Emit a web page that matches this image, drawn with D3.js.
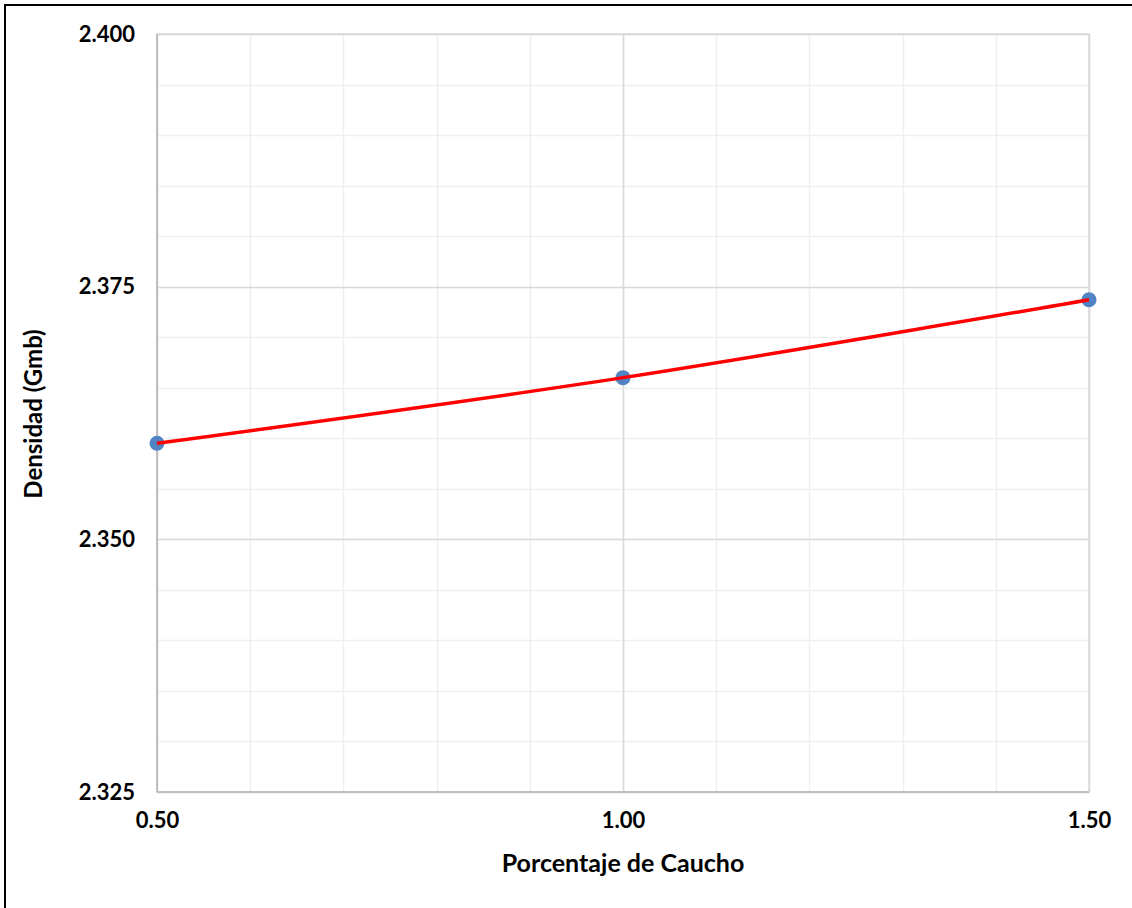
<!DOCTYPE html>
<html>
<head>
<meta charset="utf-8">
<script src="https://cdn.jsdelivr.net/npm/d3@7"></script>
<style>
  html, body { margin: 0; padding: 0; background: #fff; }
  svg { display: block; }
  text { font-family: Lato, "Open Sans", sans-serif; font-weight: bold; fill: #000; }
</style>
</head>
<body>
<svg id="chart" width="1132" height="908"></svg>
<script>
// Rubber content (%) and bulk specific gravity
const porcentajes = [0.50, 1.00, 1.50];
const densidades = [2.3595, 2.3660, 2.3737];

const yTicks = [2.325, 2.350, 2.375, 2.400];
const xTicks = [0.50, 1.00, 1.50];
const xTitulo = "Porcentaje de Caucho";
const yTitulo = "Densidad (Gmb)";

const W = 1132, H = 908;
const m = { left: 157, right: 1089, top: 34, bottom: 792 };

const svg = d3.select("#chart");

// Outer chart border
svg.append("rect")
  .attr("x", 5).attr("y", 5)
  .attr("width", W + 10).attr("height", H + 10)
  .attr("fill", "none").attr("stroke", "#000").attr("stroke-width", 2);

const x = d3.scaleLinear().domain([0.5, 1.5]).range([m.left, m.right]);
const y = d3.scaleLinear().domain([2.325, 2.400]).range([m.bottom, m.top]);

// Minor gridlines
const xMinor = d3.range(0, 11).map(i => 0.5 + i * 0.1);
const yMinor = d3.range(0, 16).map(i => 2.325 + i * 0.005);

const grid = svg.append("g");
grid.selectAll("line.ymin").data(yMinor).join("line")
  .attr("x1", m.left).attr("x2", m.right)
  .attr("y1", d => Math.round(y(d)) + 0.5).attr("y2", d => Math.round(y(d)) + 0.5)
  .attr("stroke", "#efefef").attr("stroke-width", 1.5);
grid.selectAll("line.xmin").data(xMinor).join("line")
  .attr("y1", m.top).attr("y2", m.bottom)
  .attr("x1", d => Math.round(x(d)) + 0.5).attr("x2", d => Math.round(x(d)) + 0.5)
  .attr("stroke", "#efefef").attr("stroke-width", 1.5);

// Major gridlines
grid.selectAll("line.ymaj").data(yTicks).join("line")
  .attr("x1", m.left).attr("x2", m.right)
  .attr("y1", d => Math.round(y(d)) + 0.5).attr("y2", d => Math.round(y(d)) + 0.5)
  .attr("stroke", "#d9d9d9").attr("stroke-width", 1.5);
grid.selectAll("line.xmaj").data(xTicks).join("line")
  .attr("y1", m.top).attr("y2", m.bottom)
  .attr("x1", d => Math.round(x(d)) + 0.5).attr("x2", d => Math.round(x(d)) + 0.5)
  .attr("stroke", "#d9d9d9").attr("stroke-width", 1.5);

// Plot-area frame
svg.append("rect")
  .attr("x", m.left).attr("y", m.top)
  .attr("width", m.right - m.left).attr("height", m.bottom - m.top)
  .attr("fill", "none").attr("stroke", "#d9d9d9").attr("stroke-width", 1.5);
svg.append("line")
  .attr("x1", m.left).attr("x2", m.left).attr("y1", m.top).attr("y2", m.bottom)
  .attr("stroke", "#bfbfbf").attr("stroke-width", 2);
svg.append("line")
  .attr("x1", m.left).attr("x2", m.right).attr("y1", m.bottom).attr("y2", m.bottom)
  .attr("stroke", "#bfbfbf").attr("stroke-width", 2);

// Axes (labels only)
const yAxis = svg.append("g")
  .attr("transform", `translate(${m.left},0)`)
  .call(d3.axisLeft(y).tickValues(yTicks).tickFormat(d3.format(".3f")).tickSize(0).tickPadding(22));
const xAxis = svg.append("g")
  .attr("transform", `translate(0,${m.bottom})`)
  .call(d3.axisBottom(x).tickValues(xTicks).tickFormat(d3.format(".2f")).tickSize(0).tickPadding(20));
[yAxis, xAxis].forEach(a => {
  a.select(".domain").remove();
  a.selectAll("text")
    .style("font-family", "Lato, 'Open Sans', sans-serif")
    .style("font-weight", "bold").style("font-size", "22px").attr("fill", "#000");
});

// Axis titles
svg.append("text")
  .attr("x", 623).attr("y", 872)
  .attr("text-anchor", "middle").style("font-size", "25px")
  .text(xTitulo);
svg.append("text")
  .attr("transform", `translate(42,414) rotate(-90)`)
  .attr("text-anchor", "middle").style("font-size", "24px")
  .text(yTitulo);

// Series
const pts = porcentajes.map((p, i) => [p, densidades[i]]);
const line = d3.line().x(d => x(d[0])).y(d => y(d[1])).curve(d3.curveCatmullRom);

svg.selectAll("circle.pt").data(pts).join("circle")
  .attr("cx", d => x(d[0])).attr("cy", d => y(d[1]))
  .attr("r", 7.5).attr("fill", "#5283c3");

// Smoothed line drawn over the markers
svg.append("path")
  .datum(pts)
  .attr("d", line)
  .attr("fill", "none").attr("stroke", "#ff0000").attr("stroke-width", 3.5);
</script>
</body>
</html>
